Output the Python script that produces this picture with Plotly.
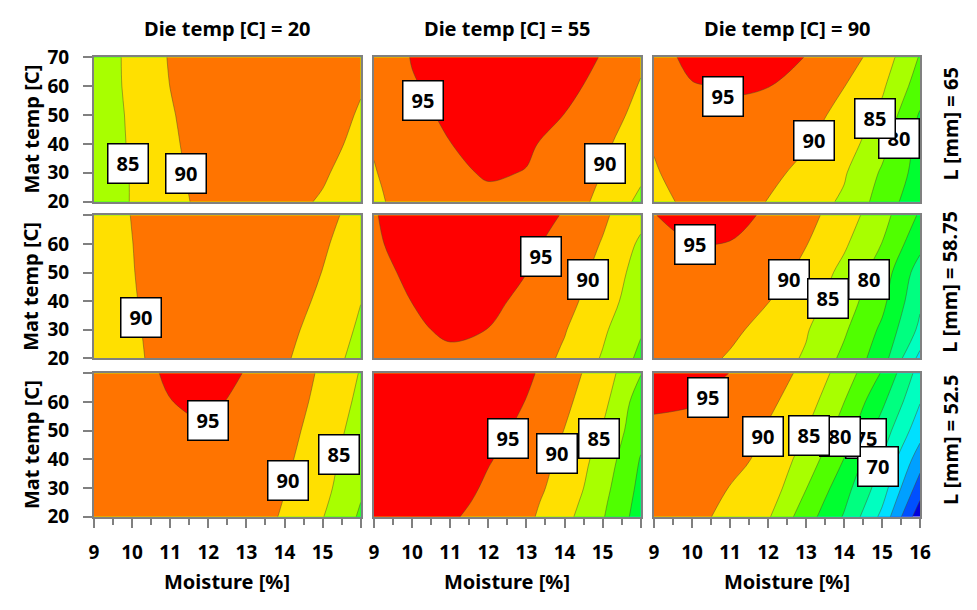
import plotly.graph_objects as go

# ---------------- data ----------------
moisture = [9, 10, 11, 12, 13, 14, 15, 16]
mat_temp = [20, 30, 40, 50, 60, 70]
mat_temp_mid = [20, 25, 30, 40, 50, 60, 70]   # finer rows used for the Die temp = 55 column
die_temp_titles = ["Die temp [C] = 20", "Die temp [C] = 55", "Die temp [C] = 90"]
length_titles = ["L [mm] = 65", "L [mm] = 58.75", "L [mm] = 52.5"]
x_ticks = [9, 10, 11, 12, 13, 14, 15, 16]
y_ticks = [20, 30, 40, 50, 60, 70]
levels = [45, 95, 5]  # start, end, step of contour levels

# response grids: one row per Mat temp, one column per Moisture (9..16)
z_L65_D20 = [
    [82.5, 85.2, 88.7, 91.2, 92.0, 91.2, 89.6, 87.0],
    [82.8, 85.2, 89.0, 91.6, 92.6, 92.3, 90.5, 88.0],
    [82.9, 85.4, 89.3, 92.0, 93.0, 93.0, 91.5, 88.8],
    [83.0, 85.5, 89.6, 92.4, 93.5, 93.6, 92.4, 89.5],
    [83.1, 85.7, 90.05, 92.8, 94.0, 94.2, 93.2, 90.4],
    [83.0, 85.8, 90.4, 93.2, 94.4, 94.7, 93.9, 91.3],
]
z_L65_D55 = [
    [89.0, 92.3, 93.8, 94.2, 94.0, 92.8, 88.6, 83.9],
    [89.3, 92.7, 94.1, 94.8, 94.6, 93.1, 89.3, 84.95],
    [89.7, 93.0, 94.4, 95.3, 94.9, 93.4, 89.9, 85.8],
    [90.4, 93.6, 94.95, 96.0, 95.4, 94.0, 91.0, 87.0],
    [91.0, 94.1, 95.6, 96.6, 96.3, 94.95, 92.6, 88.3],
    [91.6, 94.7, 96.2, 97.2, 97.0, 95.9, 94.0, 89.6],
    [92.1, 95.2, 96.8, 97.8, 97.6, 96.6, 94.8, 91.0],
]
z_L65_D90 = [
    [89.0, 90.8, 91.5, 89.9, 87.2, 84.3, 77.9, 71.5],
    [89.6, 92.0, 92.2, 91.3, 88.6, 85.5, 79.4, 73.0],
    [90.3, 92.8, 92.9, 92.3, 90.4, 87.5, 81.5, 73.4],
    [90.8, 93.6, 93.9, 93.5, 91.8, 88.5, 83.8, 74.5],
    [91.6, 94.6, 95.5, 95.1, 93.1, 90.1, 85.8, 77.5],
    [92.2, 96.8, 97.2, 96.6, 94.9, 92.2, 87.8, 79.6],
]
z_L5875_D20 = [
    [87.0, 89.3, 91.4, 92.4, 92.3, 90.6, 87.1, 83.5],
    [87.2, 89.5, 91.5, 92.7, 92.8, 91.4, 88.0, 84.3],
    [87.4, 89.7, 91.7, 93.0, 93.2, 92.1, 89.1, 85.1],
    [87.6, 89.85, 91.9, 93.3, 93.6, 92.8, 89.9, 86.0],
    [87.8, 89.95, 92.1, 93.6, 94.0, 93.4, 90.7, 87.0],
    [88.0, 90.1, 92.3, 93.9, 94.4, 94.0, 91.4, 88.3],
]
z_L5875_D55 = [
    [91.5, 93.3, 94.3, 94.1, 92.6, 89.2, 84.6, 78.9],
    [91.8, 93.9, 94.9, 94.5, 93.0, 89.75, 85.2, 79.7],
    [92.2, 94.4, 95.6, 94.95, 93.3, 90.3, 85.8, 80.5],
    [93.3, 95.05, 96.5, 96.0, 94.0, 91.2, 88.0, 81.2],
    [94.1, 95.6, 97.1, 96.9, 95.05, 92.1, 88.8, 82.7],
    [94.6, 96.1, 97.6, 97.5, 96.1, 93.3, 89.7, 84.2],
    [94.8, 96.6, 98.1, 98.0, 96.9, 94.7, 90.8, 86.5],
]
z_L5875_D90 = [
    [92.0, 91.8, 89.5, 87.2, 84.5, 78.9, 72.4, 58.5],
    [93.2, 92.6, 91.1, 88.3, 85.4, 80.7, 74.1, 63.9],
    [94.0, 93.5, 92.2, 90.15, 87.0, 82.4, 76.3, 65.9],
    [94.3, 94.3, 93.6, 92.5, 88.4, 83.7, 77.7, 67.6],
    [94.6, 94.9, 94.8, 93.0, 90.2, 85.7, 79.9, 71.5],
    [94.9, 96.3, 96.7, 94.25, 91.5, 87.5, 81.75, 74.35],
]
z_L525_D20 = [
    [90.6, 92.0, 92.9, 93.0, 91.9, 89.6, 85.2, 79.3],
    [91.0, 92.4, 93.4, 93.6, 92.6, 90.1, 86.5, 80.7],
    [91.3, 92.8, 93.9, 94.2, 93.2, 90.7, 87.8, 80.8],
    [91.7, 93.2, 94.4, 94.8, 93.8, 91.3, 88.3, 82.6],
    [92.1, 93.6, 94.95, 95.45, 94.4, 91.9, 88.9, 83.8],
    [92.5, 94.0, 95.4, 95.8, 94.9, 92.4, 89.4, 84.7],
]
z_L525_D55 = [
    [97.5, 97.0, 95.6, 93.3, 91.05, 86.5, 80.4, 72.7],
    [97.8, 97.4, 96.4, 93.8, 91.4, 87.4, 81.0, 73.2],
    [98.0, 97.8, 97.1, 94.3, 91.7, 88.3, 81.7, 73.7],
    [98.4, 98.1, 97.0, 95.3, 93.0, 88.8, 83.1, 74.7],
    [98.7, 98.4, 98.0, 96.5, 93.8, 89.9, 84.6, 76.6],
    [99.0, 98.8, 98.6, 97.3, 94.85, 91.0, 86.45, 77.4],
    [99.3, 99.3, 99.2, 98.0, 95.9, 92.0, 87.6, 80.2],
]
z_L525_D90 = [
    [92.0, 91.6, 88.5, 85.56, 77.26, 69.6, 58.8, 41.6],
    [93.2, 92.8, 89.85, 87.96, 80.17, 72.0, 62.4, 47.5],
    [93.8, 93.0, 91.2, 89.0, 82.9, 74.9, 64.8, 52.3],
    [94.2, 94.0, 92.8, 89.5, 85.05, 77.86, 67.65, 57.05],
    [95.6, 95.2, 93.7, 91.0, 87.3, 80.05, 71.0, 60.2],
    [97.0, 96.3, 94.95, 92.2, 88.9, 82.7, 74.6, 62.8],
]

# contour-level labels: (text, moisture, mat temp)
labels_L65_D20 = [("85", 9.88, 33.1), ("90", 11.42, 29.9)]
labels_L65_D55 = [("95", 10.28, 55.2), ("90", 15.05, 33.3)]
labels_L65_D90 = [("95", 10.81, 56.3), ("90", 13.22, 41.2), ("80", 15.45, 42.0), ("85", 14.81, 48.8)]
labels_L5875_D20 = [("90", 10.24, 34.4)]
labels_L5875_D55 = [("95", 13.38, 55.6), ("90", 14.62, 47.5)]
labels_L5875_D90 = [("95", 10.07, 59.9), ("90", 12.55, 47.4), ("80", 14.67, 47.4), ("85", 13.57, 41.0)]
labels_L525_D20 = [("95", 11.99, 53.4), ("90", 14.10, 32.7), ("85", 15.44, 41.6)]
labels_L525_D55 = [("95", 12.51, 47.4), ("90", 13.80, 42.0), ("85", 14.90, 47.4)]
labels_L525_D90 = [("95", 10.41, 61.6), ("90", 11.87, 47.9), ("75", 14.57, 47.3), ("70", 14.89, 37.6),
                   ("80", 13.89, 47.9), ("85", 13.07, 48.3)]

grids = [[z_L65_D20, z_L65_D55, z_L65_D90],
         [z_L5875_D20, z_L5875_D55, z_L5875_D90],
         [z_L525_D20, z_L525_D55, z_L525_D90]]
grid_rows = [mat_temp, mat_temp_mid, mat_temp]
panel_labels = [[labels_L65_D20, labels_L65_D55, labels_L65_D90],
                [labels_L5875_D20, labels_L5875_D55, labels_L5875_D90],
                [labels_L525_D20, labels_L525_D55, labels_L525_D90]]

# ---------------- styling ----------------
W, H = 977, 610
col_px = [(94, 360.7), (374, 640.7), (654, 920)]
row_px = [(57.3, 201.7), (215.3, 358.3), (373.3, 516.7)]
FONT = "Noto Sans"
GRAY = "#808080"

band_colors = ["#0000DC", "#0050FF", "#00A0FF", "#00E0FF", "#00FFC0", "#00FF80",
               "#00FF30", "#50FF00", "#A8FF00", "#FFE000", "#FF7400", "#FF0000"]
nc = int(round((levels[1] - levels[0]) / levels[2])) + 1
cscale = []
for i, col in enumerate(band_colors):
    lo = max(0.0, (i - 0.5) / nc)
    hi = min(1.0, (i + 0.5) / nc)
    cscale.append([lo, col])
    cscale.append([hi, col])

fig = go.Figure()
annotations = []
layout_axes = {}

for r in range(3):
    for c in range(3):
        k = r * 3 + c + 1
        xa = "x" if k == 1 else f"x{k}"
        ya = "y" if k == 1 else f"y{k}"
        fig.add_trace(go.Contour(
            x=moisture, y=grid_rows[c], z=grids[r][c], xaxis=xa, yaxis=ya,
            autocontour=False,
            contours=dict(start=levels[0], end=levels[1], size=levels[2],
                          coloring="fill", showlabels=False),
            colorscale=cscale, showscale=False,
            line=dict(width=1, color="rgba(70,70,40,0.45)", smoothing=1.0),
            hoverinfo="skip"))
        x0, x1 = col_px[c]
        y0, y1 = row_px[r]
        bottom = (r == 2)
        left = (c == 0)
        if c == 2:
            xtext = [str(v) for v in x_ticks]
        else:
            xtext = [str(v) for v in x_ticks[:-1]] + [""]
        if r == 0:
            ytext = [str(v) for v in y_ticks]
        else:
            ytext = [str(v) for v in y_ticks[:-1]] + [""]
        xaxis = dict(domain=[x0 / W, x1 / W], anchor=ya, range=[9, 16],
                     showgrid=False, zeroline=False, showline=True, mirror=True,
                     linecolor=GRAY, linewidth=2, automargin=False,
                     tickmode="array", tickvals=x_ticks, ticktext=xtext,
                     ticks="outside" if bottom else "", ticklen=9, tickwidth=1.5,
                     tickcolor=GRAY, showticklabels=bottom, ticklabelstandoff=8,
                     tickfont=dict(family=FONT, size=19, color="black", weight="bold"))
        if bottom:
            xaxis["minor"] = dict(tickmode="linear", tick0=9, dtick=0.5, ticks="outside",
                                  ticklen=6, tickwidth=1.5, tickcolor=GRAY)
        yaxis = dict(domain=[1 - y1 / H, 1 - y0 / H], anchor=xa, range=[20, 70],
                     showgrid=False, zeroline=False, showline=True, mirror=True,
                     linecolor=GRAY, linewidth=2, automargin=False,
                     tickmode="array", tickvals=y_ticks, ticktext=ytext,
                     ticks="outside" if left else "", ticklen=9, tickwidth=1.5,
                     tickcolor=GRAY, showticklabels=left, ticklabelstandoff=10,
                     tickfont=dict(family=FONT, size=19, color="black", weight="bold"))
        layout_axes["xaxis" if k == 1 else f"xaxis{k}"] = xaxis
        layout_axes["yaxis" if k == 1 else f"yaxis{k}"] = yaxis

        for (txt, mx, mt) in panel_labels[r][c]:
            annotations.append(dict(
                x=mx, y=mt, xref=xa, yref=ya, text=f"<b>{txt}</b>", showarrow=False,
                xanchor="center", yanchor="middle", align="center",
                font=dict(family=FONT, size=20, color="black"),
                bgcolor="white", bordercolor="black", borderwidth=1.5, borderpad=6,
                width=27, height=26))

# column titles and x titles
for c in range(3):
    x0, x1 = col_px[c]
    annotations.append(dict(x=(x0 + x1) / 2 / W, y=1 - 29 / H, xref="paper", yref="paper",
                            text=f"<b>{die_temp_titles[c]}</b>", showarrow=False,
                            xanchor="center", yanchor="middle",
                            font=dict(family=FONT, size=20, color="black")))
    annotations.append(dict(x=(x0 + x1) / 2 / W, y=1 - 581 / H, xref="paper", yref="paper",
                            text="<b>Moisture [%]</b>", showarrow=False,
                            xanchor="center", yanchor="middle",
                            font=dict(family=FONT, size=20, color="black")))
# row titles
for r in range(3):
    y0, y1 = row_px[r]
    annotations.append(dict(x=31 / W, y=1 - (y0 + y1) / 2 / H, xref="paper", yref="paper",
                            text="<b>Mat temp [C]</b>", showarrow=False, textangle=-90,
                            xanchor="center", yanchor="middle",
                            font=dict(family=FONT, size=20, color="black")))
    annotations.append(dict(x=950 / W, y=1 - ((y0 + y1) / 2 - 5) / H, xref="paper", yref="paper",
                            text=f"<b>{length_titles[r]}</b>", showarrow=False, textangle=-90,
                            xanchor="center", yanchor="middle",
                            font=dict(family=FONT, size=20, color="black")))

fig.update_layout(width=W, height=H, autosize=False,
                  margin=dict(l=0, r=0, t=0, b=0, pad=0, autoexpand=False),
                  paper_bgcolor="white", plot_bgcolor="white", showlegend=False,
                  annotations=annotations, **layout_axes)

fig.write_html("out.html", config={"responsive": False, "displayModeBar": False},
               post_script="document.body.style.margin='0px';document.body.style.overflow='hidden';")
